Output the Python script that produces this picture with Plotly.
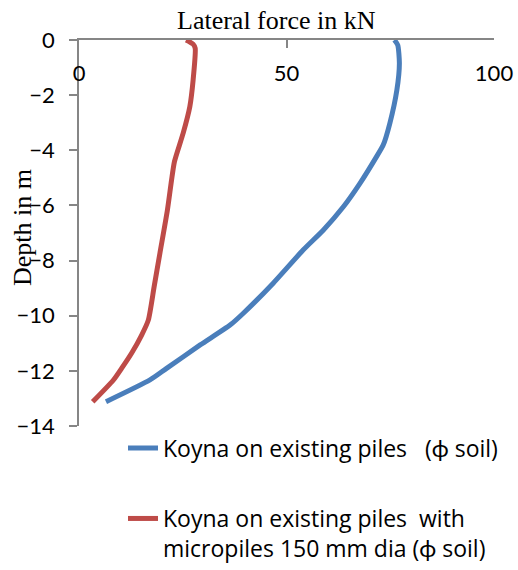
import plotly.graph_objects as go

# Lateral force (kN) against depth (m) for the Koyna pile group
depth_existing = [0.0, -0.18, -0.85, -1.81, -3.02, -3.81, -4.23, -5.20, -6.05, -6.89,
                  -7.62, -8.82, -9.91, -10.34, -11.06, -11.91, -12.33, -13.12]
force_existing = [76.0, 76.8, 77.2, 76.6, 74.9, 73.3, 71.7, 67.7, 63.7, 58.9,
                  54.0, 46.8, 39.6, 36.4, 29.2, 21.1, 17.1, 6.5]

depth_micropiles = [0.0, -0.15, -0.30, -1.45, -2.42, -3.38, -4.41, -5.08, -6.17, -7.73,
                    -8.95, -10.16, -10.70, -11.35, -11.90, -12.33, -13.12]
force_micropiles = [25.8, 27.5, 28.0, 27.5, 26.7, 25.1, 23.0, 22.3, 21.3, 19.5,
                    18.1, 16.7, 15.1, 12.7, 10.3, 8.3, 3.3]

x_ticks = [0, 50, 100]
y_ticks = [0, -2, -4, -6, -8, -10, -12, -14]

name_existing = "Koyna on existing piles\u00a0\u00a0 (\u03d5 soil)"
name_micropiles = "Koyna on existing piles\u00a0 with<br>micropiles 150 mm dia (\u03d5 soil)"

BLUE = "#4A7EBB"
RED = "#BE4B48"
AXIS = "#868686"
L, R, T, B = 79, 24, 40, 144
W, H = 518, 570
PW, PH = W - L - R, H - T - B


def px_x(p):
    return (p - L) / PW


def px_y(p):
    return (H - B - p) / PH


TICK_FONT = dict(family="Lato, Carlito, sans-serif", size=22, color="black")
SERIF = dict(family="Liberation Serif, Times New Roman, serif", size=26, color="black")
LEGEND_FONT = dict(family="Open Sans, Lato, sans-serif", size=23, color="black")

fig = go.Figure()
fig.add_trace(go.Scatter(
    x=force_existing, y=depth_existing, mode="lines", name=name_existing,
    line=dict(color=BLUE, width=5, shape="spline", smoothing=0.6),
    legend="legend",
))
fig.add_trace(go.Scatter(
    x=force_micropiles, y=depth_micropiles, mode="lines", name=name_micropiles,
    line=dict(color=RED, width=5, shape="spline", smoothing=0.6),
    legend="legend2",
))

fig.update_layout(
    width=W, height=H,
    margin=dict(l=L, r=R, t=T, b=B, autoexpand=False),
    paper_bgcolor="white", plot_bgcolor="white",
    showlegend=True,
    xaxis=dict(
        side="top", range=[0, 100], tickvals=x_ticks, automargin=False,
        ticks="inside", ticklen=8, tickcolor=AXIS, tickwidth=1.5,
        ticklabelposition="inside", ticklabeloverflow="allow", ticklabelstandoff=19,
        showline=True, linecolor=AXIS, linewidth=1.5,
        showgrid=False, zeroline=False, tickfont=TICK_FONT,
    ),
    yaxis=dict(
        range=[-14, 0], tickvals=y_ticks, automargin=False,
        ticks="outside", ticklen=8, tickcolor=AXIS, tickwidth=1.5,
        ticklabelstandoff=10,
        showline=True, linecolor=AXIS, linewidth=1.5,
        showgrid=False, zeroline=False, tickfont=TICK_FONT,
    ),
    legend=dict(
        x=px_x(123), y=px_y(448), xanchor="left", yanchor="middle",
        font=LEGEND_FONT, bgcolor="rgba(0,0,0,0)", borderwidth=0,
    ),
    legend2=dict(
        x=px_x(123), y=px_y(533.5), xanchor="left", yanchor="middle",
        font=LEGEND_FONT, bgcolor="rgba(0,0,0,0)", borderwidth=0, valign="top",
    ),
    annotations=[
        dict(text="Lateral force in kN", xref="paper", yref="paper",
             x=px_x(276), y=px_y(20), xanchor="center", yanchor="middle",
             showarrow=False, font=SERIF),
        dict(text="Depth in m", xref="paper", yref="paper", textangle=-90,
             x=px_x(23), y=px_y(228), xanchor="center", yanchor="middle",
             showarrow=False, font=SERIF),
    ],
)

fig.write_html("out.html")
